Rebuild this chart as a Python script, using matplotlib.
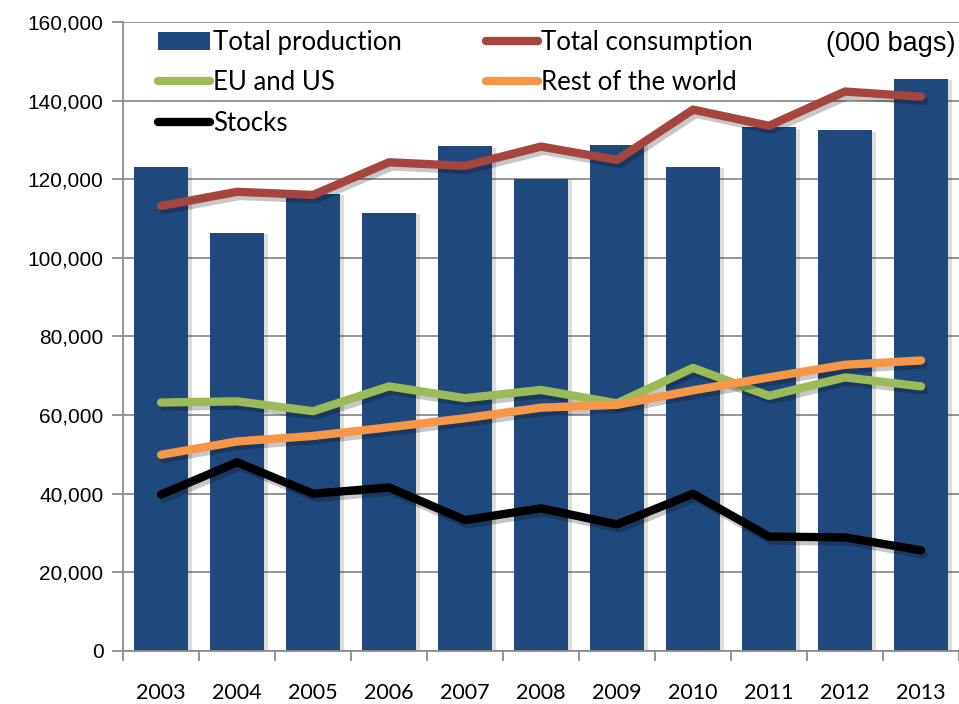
import numpy as np
import matplotlib.pyplot as plt
import matplotlib.patheffects as pe
from matplotlib.ticker import FuncFormatter

years = ['2003', '2004', '2005', '2006', '2007', '2008', '2009', '2010', '2011', '2012', '2013']
production = [123.1, 106.4, 116.3, 111.4, 128.4, 120.1, 128.7, 123.1, 133.2, 132.4, 145.5]
consumption = [113.2, 116.8, 116.0, 124.3, 123.4, 128.3, 124.9, 137.7, 133.6, 142.3, 141.0]
eu_us = [63.2, 63.5, 61.0, 67.3, 64.3, 66.4, 63.0, 72.0, 64.9, 69.6, 67.3]
rest_world = [49.9, 53.3, 54.7, 56.9, 59.2, 61.9, 62.6, 66.3, 69.6, 72.8, 73.9]
stocks = [39.8, 48.0, 40.0, 41.6, 33.3, 36.3, 32.2, 40.0, 29.1, 28.9, 25.6]

# values are in thousands of bags -> axis shows 000 bags
production = np.array(production) * 1000
consumption = np.array(consumption) * 1000
eu_us = np.array(eu_us) * 1000
rest_world = np.array(rest_world) * 1000
stocks = np.array(stocks) * 1000

fig = plt.figure(figsize=(9.59, 7.04), dpi=100)
ax = fig.add_axes([0.1283, 0.0753, 0.8717, 0.8935])

x = np.arange(len(years))
bar_shadow = [pe.SimplePatchShadow(offset=(3, -1), alpha=0.18, shadow_rgbFace='#444444'), pe.Normal()]
line_shadow = [pe.SimpleLineShadow(offset=(2, -3), alpha=0.22), pe.Normal()]

bars = ax.bar(x, production, width=0.70, color='#1F497D', label='Total production',
              zorder=2, path_effects=bar_shadow)
l_cons, = ax.plot(x, consumption, color='#A6443E', lw=6, solid_capstyle='round',
                  label='Total consumption', zorder=3, path_effects=line_shadow)
l_eu, = ax.plot(x, eu_us, color='#9BBB59', lw=6, solid_capstyle='round',
                label='EU and US', zorder=3, path_effects=line_shadow)
l_rw, = ax.plot(x, rest_world, color='#F79646', lw=6, solid_capstyle='round',
                label='Rest of the world', zorder=3, path_effects=line_shadow)
l_st, = ax.plot(x, stocks, color='black', lw=6, solid_capstyle='round',
                label='Stocks', zorder=3, path_effects=line_shadow)

ax.set_xlim(-0.5, 10.32)
ax.set_ylim(0, 160000)
ax.set_yticks(np.arange(0, 160001, 20000))
ax.yaxis.set_major_formatter(FuncFormatter(lambda v, p: f'{int(v):,}'))
ax.grid(axis='y', color='#8C8C8C', lw=1.3, zorder=0)
ax.set_axisbelow(True)

ax.set_xticks(x)
ax.set_xticklabels(years, fontfamily='Lato', fontsize=15.5)
ax.set_xticks(np.arange(-0.5, 10.6, 1), minor=True)
ax.tick_params(axis='x', which='major', length=0, pad=23)
ax.tick_params(axis='x', which='minor', length=7, width=1.3, color='#8C8C8C', direction='out')
ax.tick_params(axis='y', length=8, width=1.3, color='#8C8C8C', direction='out', pad=6)
for lab in ax.get_yticklabels():
    lab.set_fontfamily('Liberation Sans')
    lab.set_fontsize(15)

for s in ['top', 'right']:
    ax.spines[s].set_visible(False)
for s in ['left', 'bottom']:
    ax.spines[s].set_color('#8C8C8C')
    ax.spines[s].set_linewidth(1.3)

leg = ax.legend([bars, l_eu, l_st, l_cons, l_rw],
                ['Total production', 'EU and US', 'Stocks', 'Total consumption', 'Rest of the world'],
                ncol=2, loc='upper left', bbox_to_anchor=(0.029, 1.004), frameon=False,
                prop={'family': 'Lato', 'size': 18.5}, handlelength=2.05, handletextpad=0.12,
                columnspacing=3.25, labelspacing=0.6, borderaxespad=0)
for h in leg.legend_handles:
    h.set_path_effects([])

fig.text(0.861, 0.937, '(000 bags)', fontfamily='Liberation Sans', fontsize=19.5, va='center')

fig.savefig('out.png', dpi=100)
